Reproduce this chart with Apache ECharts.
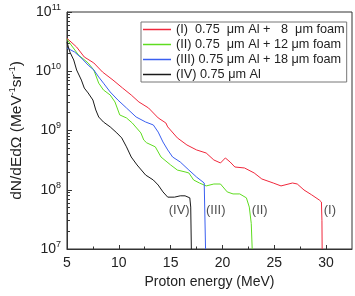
<!DOCTYPE html>
<html>
<head>
<meta charset="utf-8">
<script src="https://cdn.jsdelivr.net/npm/echarts@6/dist/echarts.min.js"></script>
<style>html,body{margin:0;padding:0;background:#fff}#c{width:355px;height:296px}</style>
</head>
<body>
<div id="c"></div>
<script>
// ---- data ----
const seriesNames = ['(I)  0.75  \u03bcm Al +   8  \u03bcm foam', '(II) 0.75  \u03bcm Al + 12 \u03bcm foam', '(III) 0.75 \u03bcm Al + 18 \u03bcm foam', '(IV) 0.75 \u03bcm Al'];

const energyI = [5.0, 5.93, 6.67, 7.59, 8.43, 9.44, 10.37, 11.2, 11.94, 12.87, 13.8, 14.54, 14.72, 15.65, 16.57, 17.5, 18.43, 19.17, 19.81, 20.28, 20.74, 21.2, 22.13, 23.06, 23.8, 24.9, 25.65, 26.76, 27.22, 27.87, 28.61, 29.35, 29.55, 29.6, 29.62];
const fluxI = [3.6e10, 2.56e10, 1.74e10, 1.38e10, 9.7e9, 7.1e9, 5.2e9, 3.97e9, 3.03e9, 2.4e9, 1.63e9, 1.34e9, 1.15e9, 7.5e8, 5.7e8, 4.7e8, 4.17e8, 3.18e8, 2.83e8, 3.44e8, 2.94e8, 2.42e8, 2.33e8, 1.92e8, 1.52e8, 1.3e8, 1.16e8, 1.3e8, 1.25e8, 9.9e7, 8.2e7, 6.7e7, 6.2e7, 3e7, 1e7];

const energyII = [5.0, 5.19, 6.11, 7.04, 7.59, 8.06, 8.52, 9.17, 9.63, 10.09, 10.74, 11.3, 12.13, 12.41, 12.69, 13.52, 14.07, 15.0, 15.65, 16.39, 16.76, 17.22, 17.78, 18.43, 19.17, 19.81, 20.46, 21.02, 21.67, 22.31, 22.59, 22.78, 22.87];
const fluxII = [3.5e10, 3.12e10, 1.88e10, 1.38e10, 1.05e10, 6.3e9, 4.83e9, 3.97e9, 3.03e9, 1.83e9, 1.63e9, 1.34e9, 9.1e8, 6.9e8, 6.2e8, 5.3e8, 3.57e8, 2.62e8, 2.15e8, 2.0e8, 1.92e8, 1.46e8, 1.3e8, 1.16e8, 1.25e8, 1.25e8, 9.2e7, 8.5e7, 8.5e7, 7.3e7, 5.1e7, 2.7e7, 1e7];

const energyIII = [5.0, 5.19, 5.74, 6.39, 7.04, 7.59, 8.06, 8.52, 9.17, 9.91, 10.74, 11.67, 12.59, 13.33, 13.8, 14.26, 14.72, 15.19, 15.93, 16.76, 17.5, 18.24, 18.36, 18.37];
const fluxIII = [2.47e10, 2.37e10, 2.11e10, 1.67e10, 1.27e10, 1.05e10, 8.0e9, 6.3e9, 4.47e9, 3.27e9, 2.4e9, 1.69e9, 1.39e9, 1.24e9, 9.4e8, 6.4e8, 4.7e8, 3.57e8, 2.94e8, 2.15e8, 1.64e8, 1.3e8, 1.3e8, 1e7];

const energyIV = [5.0, 5.09, 5.28, 5.65, 5.93, 6.39, 6.67, 7.04, 7.5, 7.78, 8.06, 8.52, 9.17, 9.81, 10.28, 10.74, 11.2, 11.76, 12.59, 13.33, 13.8, 14.26, 14.72, 15.37, 15.93, 16.39, 16.85, 16.94, 17.0];
const fluxIV = [3.1e10, 3.0e10, 2.11e10, 1.55e10, 1.05e10, 7.1e9, 5.2e9, 4.3e9, 3.27e9, 2.22e9, 1.69e9, 1.39e9, 1.15e9, 9.1e8, 7.5e8, 5.3e8, 3.57e8, 2.62e8, 1.77e8, 1.46e8, 1.2e8, 9.2e7, 7.5e7, 7.5e7, 7.9e7, 7.9e7, 7.3e7, 5.1e7, 1e7];

const curveLabels = ['(I)', '(II)', '(III)', '(IV)'];
const curveLabelX = [30.37, 23.6, 19.35, 15.83];
const curveLabelY = [4.4e7, 4.4e7, 4.4e7, 4.4e7];

const xMajorTicks = [5, 10, 15, 20, 25, 30];
const xMinorTicks = [7.5, 12.5, 17.5, 22.5, 27.5];
const yMajorTicks = [1e7, 1e8, 1e9, 1e10, 1e11];
const yMinorTicks = [];
for (let e = 7; e < 11; e++) for (let m = 2; m <= 9; m++) yMinorTicks.push(m * Math.pow(10, e));

// ---- chart ----
const colors = ['#f0283c', '#5fdc20', '#3a5ff0', '#1a1a1a'];
const energies = [energyI, energyII, energyIII, energyIV];
const fluxes = [fluxI, fluxII, fluxIII, fluxIV];
const font = 'Liberation Sans, Arial, sans-serif';

const series = seriesNames.map((n, i) => ({
  name: n, type: 'line', xAxisIndex: 0, yAxisIndex: 0,
  data: energies[i].map((x, k) => [x, fluxes[i][k]]),
  symbol: 'none', showSymbol: false, smooth: false,
  lineStyle: { color: colors[i], width: 1 }, itemStyle: { color: colors[i] },
  animation: false, z: 3
}));
series.push({
  name: 'labels', type: 'scatter', xAxisIndex: 0, yAxisIndex: 0,
  symbolSize: 0, silent: true, animation: false,
  data: curveLabels.map((t, i) => ({ name: t, value: [curveLabelX[i], curveLabelY[i]] })),
  label: { show: true, position: 'inside', formatter: p => p.name, color: '#222', fontSize: 13, fontFamily: font }
});

const chart = echarts.init(document.getElementById('c'), null, { renderer: 'canvas' });
chart.setOption({
  animation: false,
  grid: { left: 55, right: 3, top: 12, bottom: 47, show: true, borderColor: '#333', borderWidth: 1, backgroundColor: 'transparent' },
  legend: {
    data: seriesNames.map(n => ({ name: n, icon: 'rect' })), orient: 'vertical', left: 141, top: 22,
    padding: [1, 2, 1, 2], itemGap: 2, itemWidth: 28, itemHeight: 1.5,
    borderColor: '#777', borderWidth: 1, backgroundColor: '#fff',
    textStyle: { fontSize: 12.7, lineHeight: 13, color: '#222', fontFamily: font }
  },
  xAxis: [{
    type: 'value', min: 5, max: 32.5, position: 'bottom',
    name: 'Proton energy (MeV)', nameLocation: 'middle', nameGap: 25,
    nameTextStyle: { fontSize: 14, color: '#222', fontFamily: font },
    axisLine: { lineStyle: { color: '#333' } },
    axisTick: { inside: true, length: 4, customValues: xMajorTicks, lineStyle: { color: '#333' } },
    axisLabel: { customValues: xMajorTicks, margin: 7, fontSize: 14, color: '#222', fontFamily: font },
    splitLine: { show: false }
  }, {
    type: 'value', min: 5, max: 32.5, position: 'bottom', offset: 0,
    axisLine: { show: false },
    axisTick: { inside: true, length: 2.5, customValues: xMinorTicks, lineStyle: { color: '#333' } },
    axisLabel: { show: false }, splitLine: { show: false }
  }],
  yAxis: [{
    type: 'log', logBase: 10, min: 1e7, max: 1e11, position: 'left',
    name: 'dN/dEd\u03a9 (MeV{sup|-1}sr{sup|-1})', nameLocation: 'middle', nameGap: 34, nameRotate: 90,
    nameTextStyle: { fontSize: 15.5, color: '#222', fontFamily: font, rich: { sup: { fontSize: 9, verticalAlign: 'top', padding: [0, 0, 8, 0], fontFamily: font, color: '#222' } } },
    axisLine: { show: true, lineStyle: { color: '#333' } },
    axisTick: { inside: true, length: 5, customValues: yMajorTicks, lineStyle: { color: '#333' } },
    axisLabel: {
      customValues: yMajorTicks, margin: 6, fontSize: 14, color: '#222', fontFamily: font,
      formatter: v => '10{sup|' + Math.round(Math.log10(v)) + '}',
      rich: { sup: { fontSize: 9, verticalAlign: 'top', padding: [0, 0, 9, 0], color: '#222', fontFamily: font } }
    },
    splitLine: { show: false }
  }, {
    type: 'log', logBase: 10, min: 1e7, max: 1e11, position: 'left', offset: 0,
    axisLine: { show: false },
    axisTick: { inside: true, length: 3, customValues: yMinorTicks, lineStyle: { color: '#333' } },
    axisLabel: { show: false }, splitLine: { show: false }
  }],
  series: series
});
</script>
</body>
</html>
